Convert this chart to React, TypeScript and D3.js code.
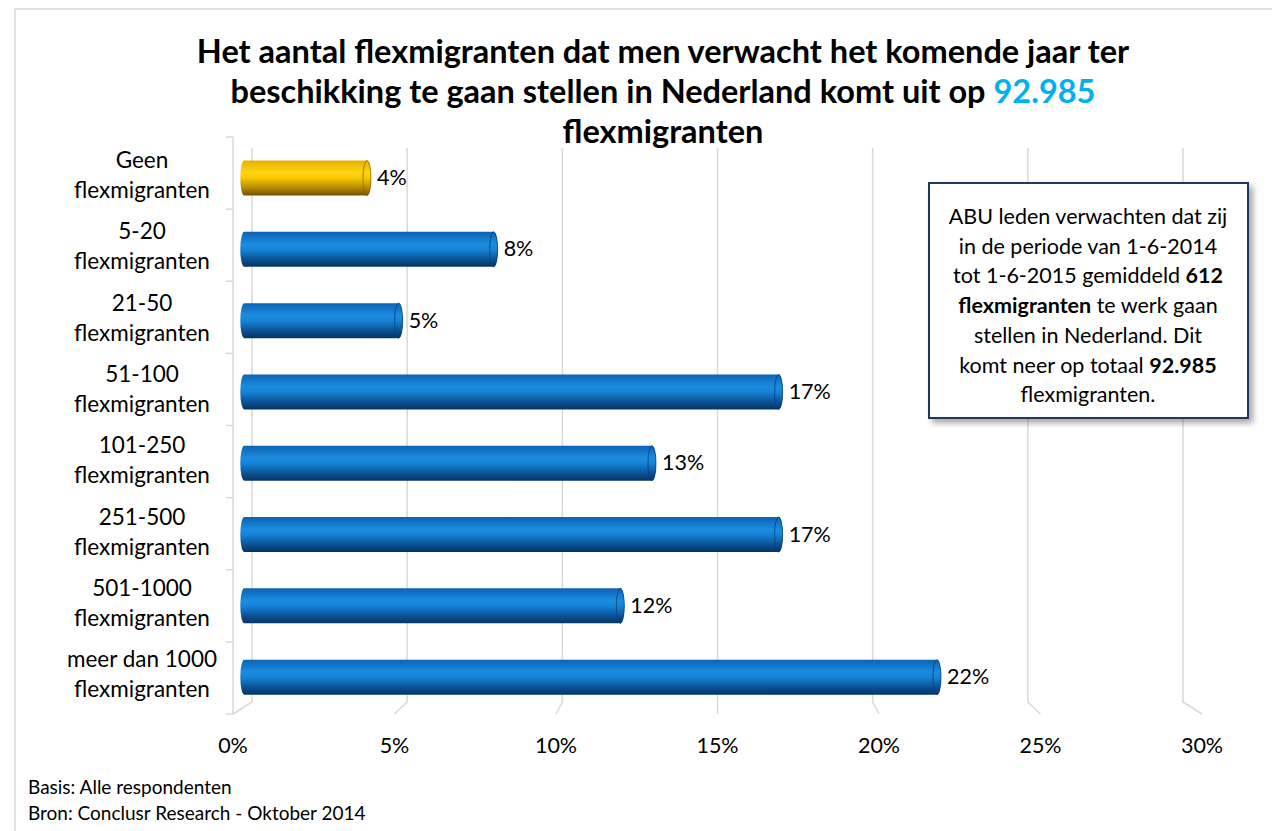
import React from "react";
import * as d3 from "d3";

const categories: string[][] = [
  ["Geen", "flexmigranten"],
  ["5-20", "flexmigranten"],
  ["21-50", "flexmigranten"],
  ["51-100", "flexmigranten"],
  ["101-250", "flexmigranten"],
  ["251-500", "flexmigranten"],
  ["501-1000", "flexmigranten"],
  ["meer dan 1000", "flexmigranten"],
];
const values: number[] = [4, 8, 5, 17, 13, 17, 12, 22];
const highlight: boolean[] = [true, false, false, false, false, false, false, false];
const ticks: number[] = [0, 5, 10, 15, 20, 25, 30];
const titleLines: string[] = [
  "Het aantal flexmigranten dat men verwacht het komende jaar ter",
  "beschikking te gaan stellen in Nederland komt uit op ",
  "flexmigranten",
];
const titleNumber = "92.985";
const footnotes: string[] = ["Basis: Alle respondenten", "Bron: Conclusr Research - Oktober 2014"];

const FONT = "Lato, 'Open Sans', sans-serif";

export default function App() {
  const W = 1272, H = 831;
  const xFront = d3.scaleLinear().domain([0, 30]).range([233, 1202]);
  const xBack = d3.scaleLinear().domain([0, 30]).range([252, 1183]);
  const xBar = d3.scaleLinear().domain([0, 30]).range([240.3, 1190.3]);
  const yBand = d3.scaleBand<number>().domain(d3.range(categories.length)).range([142.4, 712.8]).paddingInner(0.51).paddingOuter(0.255);
  const yAxisBand = d3.scaleBand<number>().domain(d3.range(categories.length)).range([137, 714]);
  const backTop = 148, backBottom = 702, frontBottom = 714;

  const barH = 35;
  const rx = 4;

  const boxLines: { parts: { t: string; b?: boolean }[] }[] = [
    { parts: [{ t: "ABU leden verwachten dat zij" }] },
    { parts: [{ t: "in de periode van 1-6-2014" }] },
    { parts: [{ t: "tot 1-6-2015 gemiddeld " }, { t: "612", b: true }] },
    { parts: [{ t: "flexmigranten", b: true }, { t: " te werk gaan" }] },
    { parts: [{ t: "stellen in Nederland. Dit" }] },
    { parts: [{ t: "komt neer op totaal " }, { t: "92.985", b: true }] },
    { parts: [{ t: "flexmigranten." }] },
  ];

  return (
    <svg width={W} height={H} style={{ position: "fixed", left: 0, top: 0, background: "#fff" }} fontFamily={FONT}>
      <defs>
        <linearGradient id="blueG" x1="0" y1="0" x2="0" y2="1">
          <stop offset="0" stopColor="#0b63b5" />
          <stop offset="0.35" stopColor="#1b8ce0" />
          <stop offset="0.5" stopColor="#1584d6" />
          <stop offset="0.8" stopColor="#0a4f93" />
          <stop offset="1" stopColor="#06345f" />
        </linearGradient>
        <linearGradient id="goldG" x1="0" y1="0" x2="0" y2="1">
          <stop offset="0" stopColor="#e8b000" />
          <stop offset="0.35" stopColor="#ffd510" />
          <stop offset="0.5" stopColor="#f5c800" />
          <stop offset="0.8" stopColor="#b08400" />
          <stop offset="1" stopColor="#6e5200" />
        </linearGradient>
        <filter id="shadow" x="-10%" y="-10%" width="130%" height="130%">
          <feDropShadow dx="4" dy="4" stdDeviation="3" floodColor="#000" floodOpacity="0.35" />
        </filter>
      </defs>
      <rect x={15} y={9} width={W + 10} height={H + 10} fill="#fff" stroke="#d9d9d9" strokeWidth={1.5} />

      {/* Title */}
      <g fontWeight="bold" fontSize={32.5} textAnchor="middle" fill="#000">
        <text x={663} y={63}>{titleLines[0]}</text>
        <text x={663} y={103}>
          {titleLines[1]}
          <tspan fill="#00b0f0">{titleNumber}</tspan>
        </text>
        <text x={663} y={143}>{titleLines[2]}</text>
      </g>

      {/* gridlines */}
      <g stroke="#d9d9d9" strokeWidth={1.5} fill="none">
        {ticks.map((t) => (
          <path key={t} d={`M${xBack(t)},${backTop}L${xBack(t)},${backBottom}L${xFront(t)},${frontBottom}`} />
        ))}
      </g>

      {/* left axis */}
      <g stroke="#d9d9d9" strokeWidth={1.5}>
        <line x1={233} x2={233} y1={yAxisBand(0)!} y2={frontBottom} />
        {d3.range(categories.length + 1).map((i) => {
          const y = 137 + i * yAxisBand.step();
          return <line key={i} x1={226} x2={233} y1={y} y2={y} />;
        })}
      </g>

      {/* category labels */}
      <g fontSize={22.5} textAnchor="middle" fill="#000">
        {categories.map((c, i) => {
          const cy = yBand(i)! + yBand.bandwidth() / 2;
          return (
            <text key={i} x={142} y={cy}>
              <tspan x={142} dy={-10}>{c[0]}</tspan>
              <tspan x={142} dy={30}>{c[1]}</tspan>
            </text>
          );
        })}
      </g>

      {/* bars */}
      {values.map((v, i) => {
        const cy = yBand(i)! + yBand.bandwidth() / 2;
        const top = cy - barH / 2, bot = cy + barH / 2;
        const x0 = xBar(0), x1 = xBar(v);
        const ry = barH / 2;
        const fill = highlight[i] ? "url(#goldG)" : "url(#blueG)";
        const edge = highlight[i] ? "#8a6a00" : "#0a3f75";
        const d = `M${x0 + rx},${top}L${x1},${top}A${rx},${ry} 0 0 1 ${x1},${bot}L${x0 + rx},${bot}A${rx},${ry} 0 0 1 ${x0 + rx},${top}Z`;
        return (
          <g key={i}>
            <path d={d} fill={fill} />
            <ellipse cx={x1} cy={cy} rx={rx} ry={ry} fill={fill} stroke={edge} strokeWidth={0.8} />
            <text x={x1 + 10} y={cy + 7} fontSize={21.5} fill="#000">{`${v}%`}</text>
          </g>
        );
      })}

      {/* x tick labels */}
      <g fontSize={21.5} textAnchor="middle" fill="#000">
        {ticks.map((t) => (
          <text key={t} x={xFront(t)} y={753}>{`${t}%`}</text>
        ))}
      </g>

      {/* annotation box */}
      <rect x={929} y={183} width={319} height={235} fill="#fff" stroke="#1f3864" strokeWidth={2} filter="url(#shadow)" />
      <g fontSize={21.5} textAnchor="middle" fill="#000">
        {boxLines.map((l, i) => (
          <text key={i} x={1088} y={224 + i * 29.7}>
            {l.parts.map((p, j) => (
              <tspan key={j} fontWeight={p.b ? "bold" : "normal"}>{p.t}</tspan>
            ))}
          </text>
        ))}
      </g>

      {/* footnotes */}
      <g fontSize={19} fill="#000">
        {footnotes.map((f, i) => (
          <text key={i} x={28} y={794 + i * 26}>{f}</text>
        ))}
      </g>
    </svg>
  );
}
